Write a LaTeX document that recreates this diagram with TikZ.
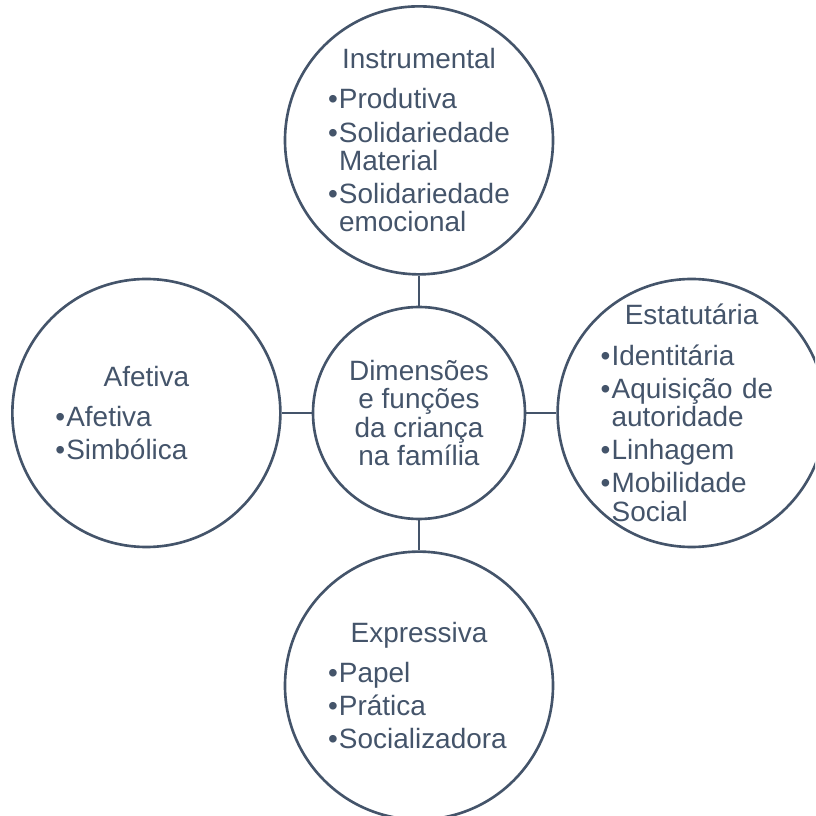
\documentclass[tikz,border=0pt]{standalone}
\usepackage{fontspec}
\setmainfont{Liberation Sans}
\usepackage{tikz}
\usetikzlibrary{positioning}
\definecolor{slate}{HTML}{44546A}
% Bubble text: centred heading, then bullets with hanging indent
\newcommand{\bubhead}[1]{\noindent\makebox[\linewidth][c]{#1}\par\vspace{3.9pt}}
\newcommand{\bubitem}[1]{\par\vspace{2.8pt}\noindent\hangindent=0.22cm\hangafter=1%
  \makebox[0.22cm][l]{\textbullet}#1\par}
\newcommand{\bubbreak}{\hfil\break}
\tikzset{
  % Central circle
  hub/.style={draw=slate, circle, line width=1.5pt, minimum size=4.24cm,
              inner sep=0pt, align=center, text=slate,
              font=\fontsize{15.9pt}{16.1pt}\selectfont},
  % Outer dimension circles (text set separately)
  bubble/.style={draw=slate, circle, line width=1.5pt, minimum size=5.36cm,
                 inner sep=0pt},
  bubtext/.style={text width=3.64cm, inner sep=0pt, align=left, text=slate,
                  font=\fontsize{15.9pt}{16.1pt}\selectfont},
  % Connectors between hub and circles
  spoke/.style={draw=slate, line width=1.5pt}
}
\begin{document}
\begin{tikzpicture}[node distance=0.6cm]

% Frame of the figure
\clip (-8.38,-8.06) rectangle (7.92,8.26);

% Hub
\node[hub] (dim) {Dimensões\\e funções\\da criança\\na família};

% Four dimensions around the hub
\node[bubble, above=of dim] (instr) {};
\node[bubble, right=of dim] (estat) {};
\node[bubble, below=of dim] (expr) {};
\node[bubble, left=of dim] (afet) {};

% Texts in the circles
\node[bubtext] (instr-txt) at (instr) {\bubhead{Instrumental}
  \bubitem{Produtiva}
  \bubitem{Solidariedade\bubbreak Material}
  \bubitem{Solidariedade\bubbreak emocional}};
\node[bubtext] (estat-txt) at (estat) {\bubhead{Estatutária}
  \bubitem{Identitária}
  \bubitem{Aquisição de\bubbreak autoridade}
  \bubitem{Linhagem}
  \bubitem{Mobilidade\bubbreak Social}};
\node[bubtext] (expr-txt) at (expr) {\bubhead{Expressiva}
  \bubitem{Papel}
  \bubitem{Prática}
  \bubitem{Socializadora}};
\node[bubtext] (afet-txt) at (afet) {\bubhead{Afetiva}
  \bubitem{Afetiva}
  \bubitem{Simbólica}};

% Spokes
\draw[spoke] (dim) -- (instr);
\draw[spoke] (dim) -- (estat);
\draw[spoke] (dim) -- (expr);
\draw[spoke] (dim) -- (afet);

\end{tikzpicture}
\end{document}
